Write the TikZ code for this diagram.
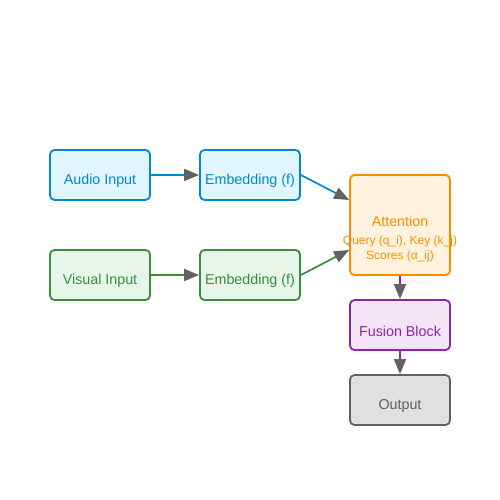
\documentclass[tikz,border=0pt]{standalone}
\usepackage{fontspec}
\setmainfont{Liberation Sans}
\usetikzlibrary{arrows.meta}
\definecolor{bS}{HTML}{0288D1}\definecolor{bF}{HTML}{E1F5FE}
\definecolor{gS}{HTML}{388E3C}\definecolor{gF}{HTML}{E8F5E9}
\definecolor{oS}{HTML}{FB8C00}\definecolor{oF}{HTML}{FFF3E0}
\definecolor{pS}{HTML}{8E24AA}\definecolor{pF}{HTML}{F3E5F5}
\definecolor{kS}{HTML}{616161}\definecolor{kF}{HTML}{E0E0E0}
\definecolor{headc}{HTML}{616161}
\begin{document}
\begin{tikzpicture}[x=1pt,y=-1pt,
  box/.style={draw=#1S,fill=#1F,line width=1.8pt,rounded corners=4.5pt,minimum width=100pt,minimum height=50pt,inner sep=0pt},
  lbl/.style={text=#1S,font=\fontsize{14.3}{16}\selectfont},
  sm/.style={text=#1S,font=\fontsize{12}{13}\selectfont},
  con/.style={draw=#1,line width=1.7pt,-{Triangle[length=15pt,width=12pt,color=headc]}}]
\useasboundingbox (0,0) rectangle (500,500);
\node[box=b] (ai) at (100,175) {};
\node[lbl=b] at (100,181) {Audio Input};
\node[box=b] (ae) at (250,175) {};
\node[lbl=b] at (250,181) {Embedding (f)};
\node[box=g] (vi) at (100,275) {};
\node[lbl=g] at (100,281) {Visual Input};
\node[box=g] (ve) at (250,275) {};
\node[lbl=g] at (250,281) {Embedding (f)};
\node[box=o,minimum height=100pt] (at) at (400,225) {};
\node[lbl=o] at (400,221) {Attention};
\node[sm=o] at (400,241.5) {Query (q\_i), Key (k\_j)};
\node[sm=o] at (400,256.5) {Scores (α\_ij)};
\node[box=p] (fu) at (400,325) {};
\node[lbl=p] at (400,331) {Fusion Block};
\node[box=k] (ou) at (400,400) {};
\node[lbl=k] at (400,406) {Output};
\draw[con=bS] (ai.east) -- (ae.west);
\draw[con=gS] (vi.east) -- (ve.west);
\draw[con=bS] (ae.east) -- (at.west |- 0,200);
\draw[con=gS] (ve.east) -- (at.west |- 0,250);
\draw[con=pS] (at.south) -- (fu.north);
\draw[con=pS] (fu.south) -- (ou.north);
\end{tikzpicture}
\end{document}
